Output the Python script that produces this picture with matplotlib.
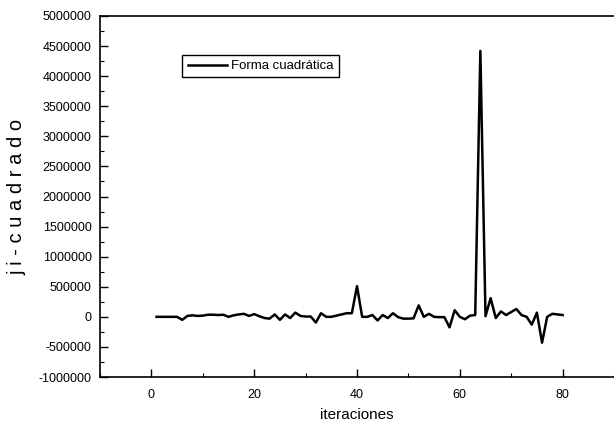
import matplotlib
matplotlib.use("Agg")
import matplotlib.pyplot as plt
from matplotlib.ticker import MultipleLocator, FuncFormatter

plt.rcParams['font.family'] = ['Liberation Sans', 'DejaVu Sans']

iterations = list(range(1, 81))
chi_square = [
    0, 0, 0, 0, 0, -50000, 15000, 25000, 15000, 20000,
    35000, 35000, 30000, 35000, 0, 25000, 40000, 50000, 15000, 45000,
    10000, -20000, -30000, 40000, -50000, 40000, -20000, 70000, 15000, 5000,
    5000, -95000, 60000, 0, 0, 20000, 40000, 60000, 60000, 510000,
    0, 0, 30000, -60000, 30000, -20000, 60000, -5000, -30000, -30000,
    -25000, 190000, 0, 50000, 0, -5000, -5000, -175000, 110000, 0,
    -40000, 20000, 30000, 4420000, 10000, 310000, -20000, 90000, 30000, 80000,
    130000, 30000, 0, -130000, 70000, -430000, 0, 50000, 40000, 30000,
]
series_label = "Forma cuadrática"
x_label = "iteraciones"
y_label = "j i - c u a d r a d o"
x_ticks = [0, 20, 40, 60, 80]
y_ticks = list(range(-1000000, 5000001, 500000))

fig = plt.figure(figsize=(6.14, 4.28), dpi=100)
ax = fig.add_axes([100/614, 1 - 377/428, 514/614, 361/428])

ax.plot(iterations, chi_square, color='black', linewidth=1.8, label=series_label)

ax.set_xlim(-10, 90)
ax.set_ylim(-1000000, 5000000)
ax.set_xticks(x_ticks)
ax.xaxis.set_minor_locator(MultipleLocator(10))
ax.set_yticks(y_ticks)
ax.yaxis.set_minor_locator(MultipleLocator(250000))
ax.yaxis.set_major_formatter(FuncFormatter(lambda v, p: f"{int(round(v))}"))

ax.tick_params(axis='both', which='major', direction='in', length=6, width=1,
               labelsize=9, top=False, right=False)
ax.tick_params(axis='both', which='minor', direction='in', length=3, width=0.8,
               top=False, right=False)
ax.tick_params(axis='x', pad=9)
ax.tick_params(axis='y', pad=6)

for s in ['left', 'bottom', 'top']:
    ax.spines[s].set_linewidth(1.2)
ax.spines['right'].set_visible(False)

ax.set_xlabel(x_label, fontsize=11, labelpad=5)
ax.set_ylabel(y_label, fontsize=14.5, labelpad=9)

leg = ax.legend(loc='upper left', bbox_to_anchor=(0.16, 0.893), borderaxespad=0,
                fancybox=False, edgecolor='black', framealpha=1, fontsize=9.5,
                handlelength=3.0, handletextpad=0.3, borderpad=0.4)
leg.get_frame().set_linewidth(1.0)

fig.savefig("out.png", dpi=100)
